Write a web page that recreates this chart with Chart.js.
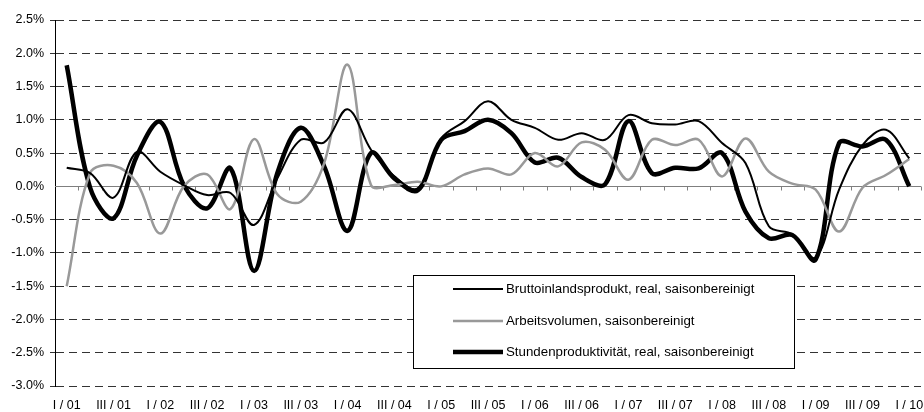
<!DOCTYPE html>
<html>
<head>
<meta charset="utf-8">
<script src="https://cdn.jsdelivr.net/npm/chart.js@4/dist/chart.umd.min.js"></script>
<style>
html, body { margin: 0; padding: 0; background: #fff; }
#wrap { width: 924px; height: 412px; position: relative; }
</style>
</head>
<body>
<div id="wrap"><canvas id="lineChart"></canvas></div>
<script>
var quarters = ['I / 01', 'II / 01', 'III / 01', 'IV / 01', 'I / 02', 'II / 02', 'III / 02', 'IV / 02',
    'I / 03', 'II / 03', 'III / 03', 'IV / 03', 'I / 04', 'II / 04', 'III / 04', 'IV / 04',
    'I / 05', 'II / 05', 'III / 05', 'IV / 05', 'I / 06', 'II / 06', 'III / 06', 'IV / 06',
    'I / 07', 'II / 07', 'III / 07', 'IV / 07', 'I / 08', 'II / 08', 'III / 08', 'IV / 08',
    'I / 09', 'II / 09', 'III / 09', 'IV / 09', 'I / 10'];

var bip = [0.28, 0.2, -0.17, 0.52, 0.22, 0.02, -0.13, -0.1, -0.58, 0.12, 0.7, 0.66, 1.16, 0.55, 0.15, -0.03,
    0.72, 0.98, 1.28, 1.0, 0.88, 0.7, 0.8, 0.7, 1.07, 0.95, 0.93, 0.98, 0.65, 0.35, -0.6, -0.72,
    -1.07, -0.05, 0.62, 0.85, 0.42];
var arbeitsvolumen = [-1.5, 0.2, 0.31, 0.05, -0.71, 0.0, 0.18, -0.34, 0.71, -0.12, -0.23, 0.35, 1.83, 0.02, 0.02, 0.07,
    0.0, 0.18, 0.27, 0.18, 0.5, 0.3, 0.66, 0.55, 0.1, 0.7, 0.62, 0.7, 0.15, 0.72, 0.22, 0.04,
    -0.05, -0.68, -0.02, 0.17, 0.41];
var produktivitaet = [1.82, -0.02, -0.48, 0.46, 0.97, 0.02, -0.33, 0.27, -1.27, 0.2, 0.88, 0.3, -0.67, 0.5, 0.12, -0.06,
    0.7, 0.83, 1.0, 0.8, 0.36, 0.43, 0.14, 0.03, 0.98, 0.2, 0.28, 0.27, 0.5, -0.38, -0.78, -0.73,
    -1.1, 0.65, 0.6, 0.7, 0.0];

var seriesNames = ['Bruttoinlandsprodukt, real, saisonbereinigt',
    'Arbeitsvolumen, saisonbereinigt',
    'Stundenproduktivität, real, saisonbereinigt'];

var fontFamily = '"Liberation Sans", Arial, sans-serif';

// zero line with small category ticks, like the excel axis
var zeroLine = {
    id: 'zeroLine',
    beforeDatasetsDraw: function (chart) {
        var ctx = chart.ctx;
        var xs = chart.scales.x, ys = chart.scales.y;
        var y0 = Math.round(ys.getPixelForValue(0)) + 0.5;
        var step = (xs.right - xs.left) / quarters.length;
        ctx.save();
        ctx.strokeStyle = '#7f7f7f';
        ctx.lineWidth = 1;
        ctx.beginPath();
        ctx.moveTo(xs.left, y0);
        ctx.lineTo(xs.right, y0);
        for (var k = 1; k <= quarters.length; k++) {
            var px = Math.round(xs.left + k * step) + 0.5;
            ctx.moveTo(px, y0);
            ctx.lineTo(px, y0 + 4);
        }
        ctx.stroke();
        ctx.restore();
    }
};

// boxed legend inside the plot
var boxLegend = {
    id: 'boxLegend',
    afterDatasetsDraw: function (chart) {
        var ctx = chart.ctx;
        var left = 413, top = 275, w = 381, h = 93;
        var rows = [289, 321, 352];
        ctx.save();
        ctx.fillStyle = '#fff';
        ctx.fillRect(left, top, w, h);
        ctx.strokeStyle = '#000';
        ctx.lineWidth = 1;
        ctx.strokeRect(left + 0.5, top + 0.5, w, h);
        ctx.font = '13.3px ' + fontFamily;
        ctx.textBaseline = 'middle';
        ctx.textAlign = 'left';
        chart.data.datasets.forEach(function (ds, i) {
            ctx.strokeStyle = ds.borderColor;
            ctx.lineWidth = ds.borderWidth;
            ctx.beginPath();
            ctx.moveTo(453, rows[i]);
            ctx.lineTo(503, rows[i]);
            ctx.stroke();
            ctx.fillStyle = '#000';
            ctx.fillText(ds.label, 506, rows[i]);
        });
        ctx.restore();
    }
};

var canvas = document.getElementById('lineChart').getContext('2d');
new Chart(canvas, {
    type: 'line',
    data: {
        labels: quarters,
        datasets: [
            {
                label: seriesNames[0],
                data: bip,
                borderColor: '#000000',
                borderWidth: 2,
                pointRadius: 0,
                tension: 0.35,
                fill: false
            },
            {
                label: seriesNames[1],
                data: arbeitsvolumen,
                borderColor: '#999999',
                borderWidth: 2.5,
                pointRadius: 0,
                tension: 0.35,
                fill: false
            },
            {
                label: seriesNames[2],
                data: produktivitaet,
                borderColor: '#000000',
                borderWidth: 4.5,
                pointRadius: 0,
                tension: 0.35,
                fill: false
            }
        ]
    },
    options: {
        responsive: true,
        maintainAspectRatio: false,
        animation: false,
        layout: { padding: { top: 20, right: 3, left: 0, bottom: 0 } },
        plugins: {
            legend: { display: false },
            tooltip: { enabled: false }
        },
        scales: {
            x: {
                offset: true,
                grid: { display: false },
                border: { display: false },
                ticks: {
                    autoSkip: false,
                    maxRotation: 0,
                    padding: 4,
                    color: '#000',
                    font: { family: fontFamily, size: 12.5 },
                    callback: function (value, index) {
                        return index % 2 === 0 ? quarters[index] : '';
                    }
                },
                afterFit: function (scale) {
                    scale.height = 26;
                    scale.paddingLeft = 0;
                    scale.paddingRight = 0;
                }
            },
            y: {
                min: -3,
                max: 2.5,
                grid: {
                    color: function (c) { return c.tick && c.tick.value === 0 ? 'rgba(0,0,0,0)' : '#333'; },
                    tickLength: 5
                },
                border: { display: true, color: '#000', width: 1, dash: [8, 5] },
                ticks: {
                    stepSize: 0.5,
                    padding: 6,
                    color: '#000',
                    font: { family: fontFamily, size: 12.5 },
                    callback: function (v) { return v.toFixed(1) + '%'; }
                },
                afterFit: function (scale) {
                    scale.width = 55;
                }
            }
        }
    },
    plugins: [zeroLine, boxLegend]
});
</script>
</body>
</html>
